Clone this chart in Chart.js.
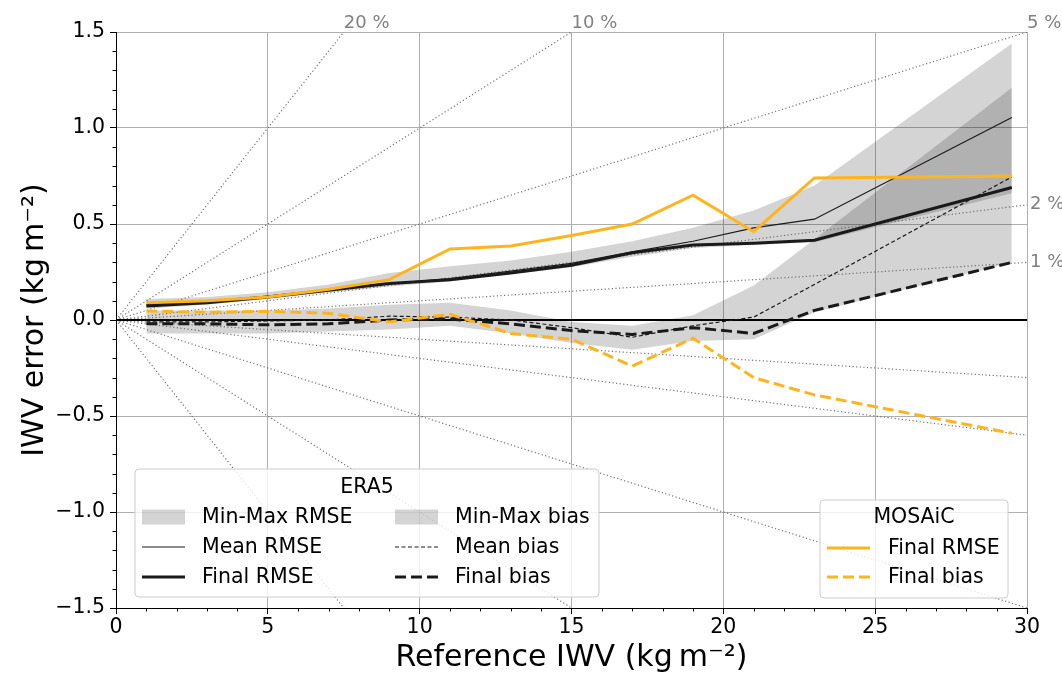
<!DOCTYPE html>
<html>
<head>
<meta charset="utf-8">
<script src="https://cdn.jsdelivr.net/npm/chart.js@4/dist/chart.umd.min.js"></script>
<style>
  html, body { margin: 0; padding: 0; background: #fff; }
  #wrap { width: 1062px; height: 676px; }
</style>
</head>
<body>
<div id="wrap"><canvas id="c" width="1062" height="676"></canvas></div>
<script>
// bin centres (reference IWV)
var xBins = [1, 3, 5, 7, 9, 11, 13, 15, 17, 19, 21, 23, 29.5]

// ERA5 RMSE
var era5RmseMin   = [0.06, 0.08, 0.11, 0.145, 0.175, 0.20, 0.24, 0.275, 0.33, 0.375, 0.39, 0.405, 0.66]
var era5RmseMax   = [0.11, 0.12, 0.145, 0.185, 0.245, 0.28, 0.31, 0.355, 0.41, 0.48, 0.57, 0.70, 1.44]
var era5RmseMean  = [0.08, 0.10, 0.125, 0.16, 0.19, 0.215, 0.255, 0.295, 0.355, 0.41, 0.48, 0.525, 1.055]
var era5RmseFinal = [0.073, 0.09, 0.12, 0.155, 0.19, 0.21, 0.245, 0.285, 0.35, 0.39, 0.40, 0.415, 0.69]

// ERA5 bias
var era5BiasMin   = [-0.07, -0.07, -0.07, -0.06, -0.05, -0.03, -0.07, -0.12, -0.155, -0.11, -0.10, 0.04, 0.30]
var era5BiasMax   = [0.05, 0.05, 0.05, 0.06, 0.08, 0.09, 0.05, -0.01, -0.03, 0.025, 0.18, 0.42, 1.21]
var era5BiasMean  = [-0.01, -0.01, -0.005, 0.0, 0.02, 0.015, 0.0, -0.04, -0.09, -0.03, 0.015, 0.185, 0.745]
var era5BiasFinal = [-0.02, -0.02, -0.025, -0.02, 0.0, 0.005, -0.02, -0.055, -0.075, -0.04, -0.07, 0.05, 0.30]

// MOSAiC
var mosaicRmse = [0.09, 0.10, 0.12, 0.16, 0.21, 0.37, 0.385, 0.44, 0.50, 0.65, 0.46, 0.74, 0.75]
var mosaicBias = [0.047, 0.04, 0.045, 0.035, -0.01, 0.03, -0.07, -0.10, -0.24, -0.095, -0.30, -0.39, -0.59]

// relative error guide lines (%)
var percentLevels = [1, 2, 5, 10, 20]

var xMin = 0, xMax = 30, yMin = -1.5, yMax = 1.5
var orange = 'rgb(255,180,30)'
var bandFill = 'rgba(0,0,0,0.17)'
var font = '"DejaVu Sans", sans-serif'
var textSize = 20.5

function pts(ys) {
  return ys.map(function(y, i) { return {x: xBins[i], y: y} })
}

function band(label, ys, fill, order) {
  return {
      label: label
    , data: pts(ys)
    , borderWidth: 0
    , borderColor: 'transparent'
    , backgroundColor: bandFill
    , pointRadius: 0
    , fill: fill
    , order: order
  }
}

function line(label, ys, color, width, dash, order) {
  return {
      label: label
    , data: pts(ys)
    , borderColor: color
    , borderWidth: width
    , borderDash: dash
    , pointRadius: 0
    , fill: false
    , order: order
  }
}

var datasets = [
    band('rmseMin', era5RmseMin, false, 30)
  , band('rmseMax', era5RmseMax, '-1', 30)
  , band('biasMin', era5BiasMin, false, 29)
  , band('biasMax', era5BiasMax, '-1', 29)
]

percentLevels.forEach(function(p) {
  [1, -1].forEach(function(s) {
    datasets.push({
        label: 'pct' + s * p
      , data: [{x: 0, y: 0}, {x: xMax, y: s * p / 100 * xMax}]
      , borderColor: 'rgba(90,90,90,0.85)'
      , borderWidth: 1.2
      , borderDash: [1.2, 2.4]
      , pointRadius: 0
      , fill: false
      , order: 20
    })
  })
})

datasets.push({
    label: 'zero'
  , data: [{x: xMin, y: 0}, {x: xMax, y: 0}]
  , borderColor: '#000'
  , borderWidth: 2
  , pointRadius: 0
  , fill: false
  , order: 15
})

datasets.push(line('Mean RMSE', era5RmseMean, '#1a1a1a', 1.2, [], 6))
datasets.push(line('Final RMSE', era5RmseFinal, '#1a1a1a', 3, [], 5))
datasets.push(line('Mean bias', era5BiasMean, '#1a1a1a', 1.2, [4, 2.5], 6))
datasets.push(line('Final bias', era5BiasFinal, '#1a1a1a', 3, [11, 5], 5))
datasets.push(line('MOSAiC bias', mosaicBias, orange, 3, [11, 5], 2))
datasets.push(line('MOSAiC RMSE', mosaicRmse, orange, 3, [], 1))

function fmt(v) {
  return v.toFixed(1).replace('-', '\u2212')
}

// minor ticks, percent labels and the two legends
var extras = {
  id: 'extras',
  afterDraw: function(chart) {
    var ctx = chart.ctx
    var xs = chart.scales.x, ys = chart.scales.y
    var area = chart.chartArea
    ctx.save()
    ctx.strokeStyle = '#000'
    ctx.lineWidth = 1
    for (var i = xMin; i <= xMax; i++) {
      if (i % 5 === 0) continue
      var px = Math.round(xs.getPixelForValue(i)) + 0.5
      ctx.beginPath(); ctx.moveTo(px, area.bottom); ctx.lineTo(px, area.bottom + 3.5); ctx.stroke()
    }
    for (var k = -15; k <= 15; k++) {
      if (k % 5 === 0) continue
      var py = Math.round(ys.getPixelForValue(k / 10)) + 0.5
      ctx.beginPath(); ctx.moveTo(area.left, py); ctx.lineTo(area.left - 3.5, py); ctx.stroke()
    }

    // percent labels
    ctx.fillStyle = '#808080'
    ctx.font = '18px ' + font
    ctx.textAlign = 'left'
    percentLevels.forEach(function(p) {
      var yEnd = p / 100 * xMax
      if (yEnd >= yMax) {
        var xTop = yMax / (p / 100)
        ctx.textBaseline = 'alphabetic'
        ctx.fillText(p + ' %', xs.getPixelForValue(xTop), area.top - 4)
      } else {
        ctx.textBaseline = 'middle'
        ctx.fillText(p + ' %', area.right + 3, ys.getPixelForValue(yEnd))
      }
    })

    drawLegend(ctx, {
        x: 135, y: 469, w: 464, h: 128, title: 'ERA5', titleX: 367, titleY: 488
      , items: [
          {kind: 'patch', text: 'Min-Max RMSE', hx: 142, tx: 202, y: 517}
        , {kind: 'line', text: 'Mean RMSE', hx: 142, tx: 202, y: 547, color: '#1a1a1a', w: 1.2, dash: []}
        , {kind: 'line', text: 'Final RMSE', hx: 142, tx: 202, y: 577, color: '#1a1a1a', w: 3, dash: []}
        , {kind: 'patch', text: 'Min-Max bias', hx: 395, tx: 455, y: 517}
        , {kind: 'line', text: 'Mean bias', hx: 395, tx: 455, y: 547, color: '#1a1a1a', w: 1.2, dash: [4, 2.5]}
        , {kind: 'line', text: 'Final bias', hx: 395, tx: 455, y: 577, color: '#1a1a1a', w: 3, dash: [11, 5]}
      ]
    })
    drawLegend(ctx, {
        x: 820, y: 500, w: 188, h: 98, title: 'MOSAiC', titleX: 914, titleY: 518
      , items: [
          {kind: 'line', text: 'Final RMSE', hx: 827, tx: 888, y: 548, color: orange, w: 3, dash: []}
        , {kind: 'line', text: 'Final bias', hx: 827, tx: 888, y: 577, color: orange, w: 3, dash: [11, 5]}
      ]
    })
    ctx.restore()
  }
}

function drawLegend(ctx, L) {
  ctx.save()
  var r = 4
  ctx.beginPath()
  ctx.moveTo(L.x + r, L.y)
  ctx.arcTo(L.x + L.w, L.y, L.x + L.w, L.y + L.h, r)
  ctx.arcTo(L.x + L.w, L.y + L.h, L.x, L.y + L.h, r)
  ctx.arcTo(L.x, L.y + L.h, L.x, L.y, r)
  ctx.arcTo(L.x, L.y, L.x + L.w, L.y, r)
  ctx.closePath()
  ctx.fillStyle = 'rgba(255,255,255,0.8)'
  ctx.fill()
  ctx.strokeStyle = '#cccccc'
  ctx.lineWidth = 1
  ctx.stroke()

  ctx.fillStyle = '#000'
  ctx.font = textSize + 'px ' + font
  ctx.textAlign = 'center'
  ctx.textBaseline = 'middle'
  ctx.fillText(L.title, L.titleX, L.titleY)

  ctx.textAlign = 'left'
  L.items.forEach(function(it) {
    if (it.kind === 'patch') {
      ctx.fillStyle = bandFill
      ctx.fillRect(it.hx, it.y - 7.5, 43, 15)
    } else {
      ctx.strokeStyle = it.color
      ctx.lineWidth = it.w
      ctx.setLineDash(it.dash)
      ctx.beginPath(); ctx.moveTo(it.hx, it.y); ctx.lineTo(it.hx + 43, it.y); ctx.stroke()
      ctx.setLineDash([])
    }
    ctx.fillStyle = '#000'
    ctx.fillText(it.text, it.tx, it.y + 1)
  })
  ctx.restore()
}

var ctx = document.getElementById('c').getContext('2d')

new Chart(ctx, {
  type: 'line'
, data: {datasets: datasets}
, plugins: [extras]
, options: {
    responsive: false
  , animation: false
  , layout: {padding: {top: 32, right: 35, left: 0, bottom: 0}}
  , plugins: {legend: {display: false}, tooltip: {enabled: false}}
  , scales: {
      x: {
        type: 'linear'
      , min: xMin
      , max: xMax
      , afterFit: function(s) { s.height = 68 }
      , ticks: {stepSize: 5, color: '#000', font: {family: font, size: textSize}, padding: 1, maxRotation: 0}
      , grid: {color: '#b0b0b0', lineWidth: 1, tickColor: '#000', tickLength: 6}
      , border: {display: true, color: '#000', width: 1}
      , title: {display: true, text: 'Reference IWV (kg\u2009m\u207B\u00B2)', color: '#000'
               , font: {family: font, size: 30}, padding: {top: 0, bottom: 0}}
      }
    , y: {
        type: 'linear'
      , min: yMin
      , max: yMax
      , afterFit: function(s) { s.width = 116 }
      , ticks: {stepSize: 0.5, color: '#000', font: {family: font, size: textSize}, padding: 5
               , callback: function(v) { return fmt(v) }}
      , grid: {color: '#b0b0b0', lineWidth: 1, tickColor: '#000', tickLength: 6}
      , border: {display: true, color: '#000', width: 1}
      , title: {display: true, text: 'IWV error (kg\u2009m\u207B\u00B2)', color: '#000'
               , font: {family: font, size: 30}, padding: {top: 17, bottom: 0}}
      }
    }
  }
})
</script>
</body>
</html>
